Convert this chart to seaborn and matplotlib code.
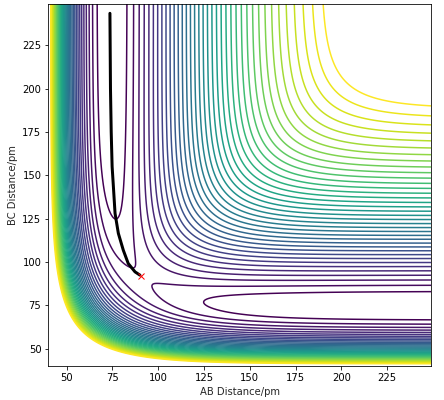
"""
LEPS potential energy surface for collinear H + H2 with a reactive trajectory.
"""
import numpy as np
import matplotlib
matplotlib.use('Agg')
import matplotlib.pyplot as plt
import seaborn as sns

# LEPS parameters (kJ/mol, pm)
D_e = 458.0
beta = 0.01942
r_e = 74.1
sato = 0.18

# grid of AB / BC distances
r_lo, r_hi, r_step = 40.0, 249.0, 0.5

# contour levels, measured from the bottom of the H2 well (kJ/mol)
level_first = 11.2
level_step = 9.8
n_levels = 37

# trajectory (AB, BC in pm)
traj_ab = [73.6, 73.9, 74.3, 74.8, 75.4, 76.4, 78.2, 80.9, 83.6, 87.3, 90.0]
traj_bc = [243.4, 200.0, 175.0, 155.0, 145.0, 128.0, 116.5, 106.8, 99.1, 94.3, 92.4]

# end point marker
end_ab = [90.6]
end_bc = [92.0]


def coulomb_exchange(r):
    e1 = np.exp(-beta * (r - r_e))
    e2 = e1 ** 2
    q = D_e / 4 * ((3 + sato) * e2 - (2 + 6 * sato) * e1)
    j = D_e / 4 * ((1 + 3 * sato) * e2 - (6 + 2 * sato) * e1)
    return q, j


def leps(rab, rbc):
    rac = rab + rbc
    qab, jab = coulomb_exchange(rab)
    qbc, jbc = coulomb_exchange(rbc)
    qac, jac = coulomb_exchange(rac)
    root = np.sqrt(0.5 * ((jab - jbc) ** 2 + (jbc - jac) ** 2 + (jac - jab) ** 2))
    return (qab + qbc + qac - root) / (1 + sato)


r = np.arange(r_lo, r_hi + r_step / 2, r_step)
RAB, RBC = np.meshgrid(r, r)
V = leps(RAB, RBC)
levels = V.min() + level_first + level_step * np.arange(n_levels)

sns.set_style('ticks')
fig = plt.figure(figsize=(444 / 72, 400 / 72), dpi=72)
ax = fig.add_axes([0.109, 0.085, 0.862, 0.906])

ax.contour(RAB, RBC, V, levels=levels, cmap='viridis', linewidths=1.5)
sns.lineplot(x=traj_ab, y=traj_bc, sort=False, color='k', lw=3, ax=ax)
ax.plot(end_ab, end_bc, 'rx', ms=6)

ax.set_xlim(r_lo, r_hi)
ax.set_ylim(r_lo, r_hi)
ax.set_xticks([50, 75, 100, 125, 150, 175, 200, 225])
ax.set_yticks([50, 75, 100, 125, 150, 175, 200, 225])
ax.set_xlabel('AB Distance/pm')
ax.set_ylabel('BC Distance/pm')
for s in ax.spines.values():
    s.set_color('black')
ax.tick_params(colors='black')

fig.savefig('out.png', dpi=72)
plt.close(fig)
